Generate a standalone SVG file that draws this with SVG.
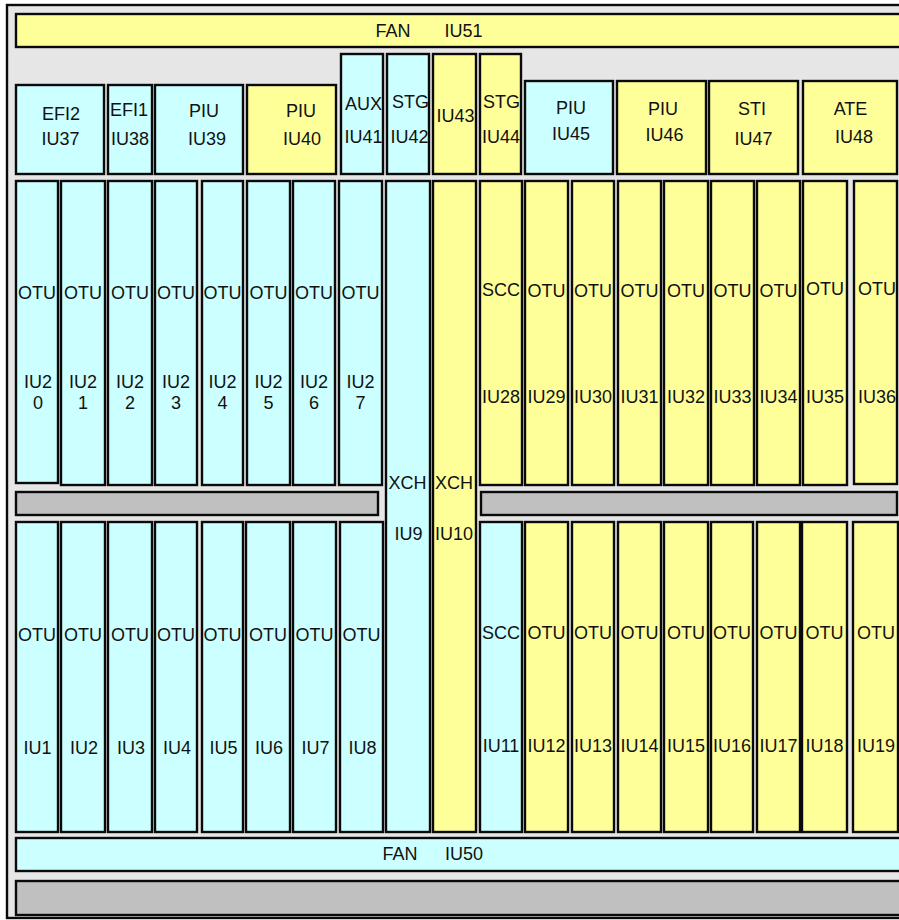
<svg xmlns="http://www.w3.org/2000/svg" width="899" height="920" viewBox="0 0 899 920">
<style>
rect{stroke:#0a0a0a;stroke-width:2.4}
.c{fill:#CCFFFF}
.y{fill:#FFFF99}
.g{fill:#C0C0C0}
.bg{fill:#E6E6E6}
text{font-family:"Liberation Sans",Arial,sans-serif;font-size:18px;fill:#111;text-anchor:middle}
</style>
<rect class="bg" x="7" y="5" width="902" height="913"/>
<g id="IU51"><rect class="y" x="16" y="14" width="895" height="33"/><text x="393" y="37">FAN</text><text x="463.5" y="37">IU51</text></g>
<g id="IU37"><rect class="c" x="16" y="85" width="88" height="89"/><text x="61" y="120">EFI2</text><text x="60.5" y="145">IU37</text></g>
<g id="IU38"><rect class="c" x="108" y="85" width="44" height="89"/><text x="129" y="116">EFI1</text><text x="130" y="145">IU38</text></g>
<g id="IU39"><rect class="c" x="155" y="85" width="88" height="89"/><text x="204" y="117">PIU</text><text x="207" y="145">IU39</text></g>
<g id="IU40"><rect class="y" x="247" y="85" width="89" height="89"/><text x="301" y="117">PIU</text><text x="302" y="145">IU40</text></g>
<g id="IU41"><rect class="c" x="341" y="54" width="42" height="120"/><text x="363.5" y="110">AUX</text><text x="363.5" y="143">IU41</text></g>
<g id="IU42"><rect class="c" x="387" y="54" width="42" height="120"/><text x="410.5" y="108">STG</text><text x="409.5" y="143">IU42</text></g>
<g id="IU43"><rect class="y" x="433" y="54" width="43" height="120"/><text x="455.5" y="122">IU43</text></g>
<g id="IU44"><rect class="y" x="480" y="54" width="41" height="120"/><text x="501.5" y="108">STG</text><text x="501" y="143">IU44</text></g>
<g id="IU45"><rect class="c" x="525" y="81" width="88" height="93"/><text x="571" y="114">PIU</text><text x="571" y="140">IU45</text></g>
<g id="IU46"><rect class="y" x="617" y="81" width="89" height="93"/><text x="663" y="115">PIU</text><text x="664.5" y="141">IU46</text></g>
<g id="IU47"><rect class="y" x="709" y="81" width="89" height="93"/><text x="752" y="115">STI</text><text x="753.5" y="145">IU47</text></g>
<g id="IU48"><rect class="y" x="803" y="81" width="94" height="93"/><text x="850.5" y="115">ATE</text><text x="854" y="143">IU48</text></g>

<g id="IU20"><rect class="c" x="16" y="181" width="42" height="302"/><text x="37" y="299">OTU</text><text x="38" y="388">IU2</text><text x="38" y="409">0</text></g>
<g id="IU21"><rect class="c" x="61" y="181" width="44" height="304"/><text x="83" y="299">OTU</text><text x="83" y="388">IU2</text><text x="83" y="409">1</text></g>
<g id="IU22"><rect class="c" x="108" y="181" width="44" height="304"/><text x="130" y="299">OTU</text><text x="130" y="388">IU2</text><text x="130" y="409">2</text></g>
<g id="IU23"><rect class="c" x="155" y="181" width="42" height="304"/><text x="176" y="299">OTU</text><text x="176" y="388">IU2</text><text x="176" y="409">3</text></g>
<g id="IU24"><rect class="c" x="202" y="181" width="41" height="304"/><text x="222.5" y="299">OTU</text><text x="222.5" y="388">IU2</text><text x="222.5" y="409">4</text></g>
<g id="IU25"><rect class="c" x="247" y="181" width="43" height="304"/><text x="268.5" y="299">OTU</text><text x="268.5" y="388">IU2</text><text x="268.5" y="409">5</text></g>
<g id="IU26"><rect class="c" x="293" y="181" width="42" height="304"/><text x="314" y="299">OTU</text><text x="314" y="388">IU2</text><text x="314" y="409">6</text></g>
<g id="IU27"><rect class="c" x="339" y="181" width="43" height="304"/><text x="360.5" y="299">OTU</text><text x="360.5" y="388">IU2</text><text x="360.5" y="409">7</text></g>

<g id="IU9"><rect class="c" x="386" y="181" width="44" height="651"/><text x="407.5" y="489">XCH</text><text x="408.5" y="540">IU9</text></g>
<g id="IU10"><rect class="y" x="433" y="181" width="43" height="651"/><text x="454" y="489">XCH</text><text x="454" y="540">IU10</text></g>

<g id="IU28"><rect class="y" x="480" y="181" width="42" height="304"/><text x="501" y="296">SCC</text><text x="501" y="403">IU28</text></g>
<g id="IU29"><rect class="y" x="525" y="181" width="43" height="304"/><text x="546.5" y="297">OTU</text><text x="546.5" y="403">IU29</text></g>
<g id="IU30"><rect class="y" x="572" y="181" width="42" height="304"/><text x="593" y="297">OTU</text><text x="593" y="403">IU30</text></g>
<g id="IU31"><rect class="y" x="618" y="181" width="43" height="304"/><text x="639.5" y="297">OTU</text><text x="639.5" y="403">IU31</text></g>
<g id="IU32"><rect class="y" x="664" y="181" width="44" height="304"/><text x="686" y="297">OTU</text><text x="686" y="403">IU32</text></g>
<g id="IU33"><rect class="y" x="711" y="181" width="43" height="304"/><text x="732.5" y="297">OTU</text><text x="732.5" y="403">IU33</text></g>
<g id="IU34"><rect class="y" x="757" y="181" width="43" height="304"/><text x="778.5" y="297">OTU</text><text x="778.5" y="403">IU34</text></g>
<g id="IU35"><rect class="y" x="803" y="181" width="44" height="304"/><text x="825" y="295">OTU</text><text x="825" y="403">IU35</text></g>
<g id="IU36"><rect class="y" x="854" y="181" width="43" height="303"/><text x="877" y="295">OTU</text><text x="877" y="403">IU36</text></g>

<g id="bar-left"><rect class="g" x="16" y="492" width="362" height="23"/></g>
<g id="bar-right"><rect class="g" x="481" y="492" width="416" height="23"/></g>

<g id="IU1"><rect class="c" x="16" y="522" width="42" height="310"/><text x="37" y="641">OTU</text><text x="37.5" y="754">IU1</text></g>
<g id="IU2"><rect class="c" x="61" y="522" width="44" height="310"/><text x="83" y="641">OTU</text><text x="84" y="754">IU2</text></g>
<g id="IU3"><rect class="c" x="108" y="522" width="44" height="310"/><text x="130" y="641">OTU</text><text x="131" y="754">IU3</text></g>
<g id="IU4"><rect class="c" x="155" y="522" width="42" height="310"/><text x="176" y="641">OTU</text><text x="177" y="754">IU4</text></g>
<g id="IU5"><rect class="c" x="202" y="522" width="41" height="310"/><text x="222.5" y="641">OTU</text><text x="223.5" y="754">IU5</text></g>
<g id="IU6"><rect class="c" x="246" y="522" width="44" height="310"/><text x="268" y="641">OTU</text><text x="269" y="754">IU6</text></g>
<g id="IU7"><rect class="c" x="293" y="522" width="43" height="310"/><text x="314.5" y="641">OTU</text><text x="315.5" y="754">IU7</text></g>
<g id="IU8"><rect class="c" x="340" y="522" width="43" height="310"/><text x="361.5" y="641">OTU</text><text x="362.5" y="754">IU8</text></g>

<g id="IU11"><rect class="c" x="480" y="522" width="42" height="310"/><text x="501" y="639">SCC</text><text x="501" y="752">IU11</text></g>
<g id="IU12"><rect class="y" x="525" y="522" width="43" height="310"/><text x="546.5" y="639">OTU</text><text x="546.5" y="752">IU12</text></g>
<g id="IU13"><rect class="y" x="572" y="522" width="42" height="310"/><text x="593" y="639">OTU</text><text x="593" y="752">IU13</text></g>
<g id="IU14"><rect class="y" x="618" y="522" width="43" height="310"/><text x="639.5" y="639">OTU</text><text x="639.5" y="752">IU14</text></g>
<g id="IU15"><rect class="y" x="664" y="522" width="44" height="310"/><text x="686" y="639">OTU</text><text x="686" y="752">IU15</text></g>
<g id="IU16"><rect class="y" x="711" y="522" width="42" height="310"/><text x="732" y="639">OTU</text><text x="732" y="752">IU16</text></g>
<g id="IU17"><rect class="y" x="757" y="522" width="43" height="310"/><text x="778.5" y="639">OTU</text><text x="778.5" y="752">IU17</text></g>
<g id="IU18"><rect class="y" x="802" y="522" width="45" height="310"/><text x="824.5" y="639">OTU</text><text x="824.5" y="752">IU18</text></g>
<g id="IU19"><rect class="y" x="853" y="522" width="45" height="310"/><text x="876" y="639">OTU</text><text x="876" y="752">IU19</text></g>

<g id="IU50"><rect class="c" x="16" y="838" width="895" height="33"/><text x="400" y="860">FAN</text><text x="464" y="860">IU50</text></g>
<g id="bar-bottom"><rect class="g" x="16" y="881" width="895" height="34"/></g>
</svg>
